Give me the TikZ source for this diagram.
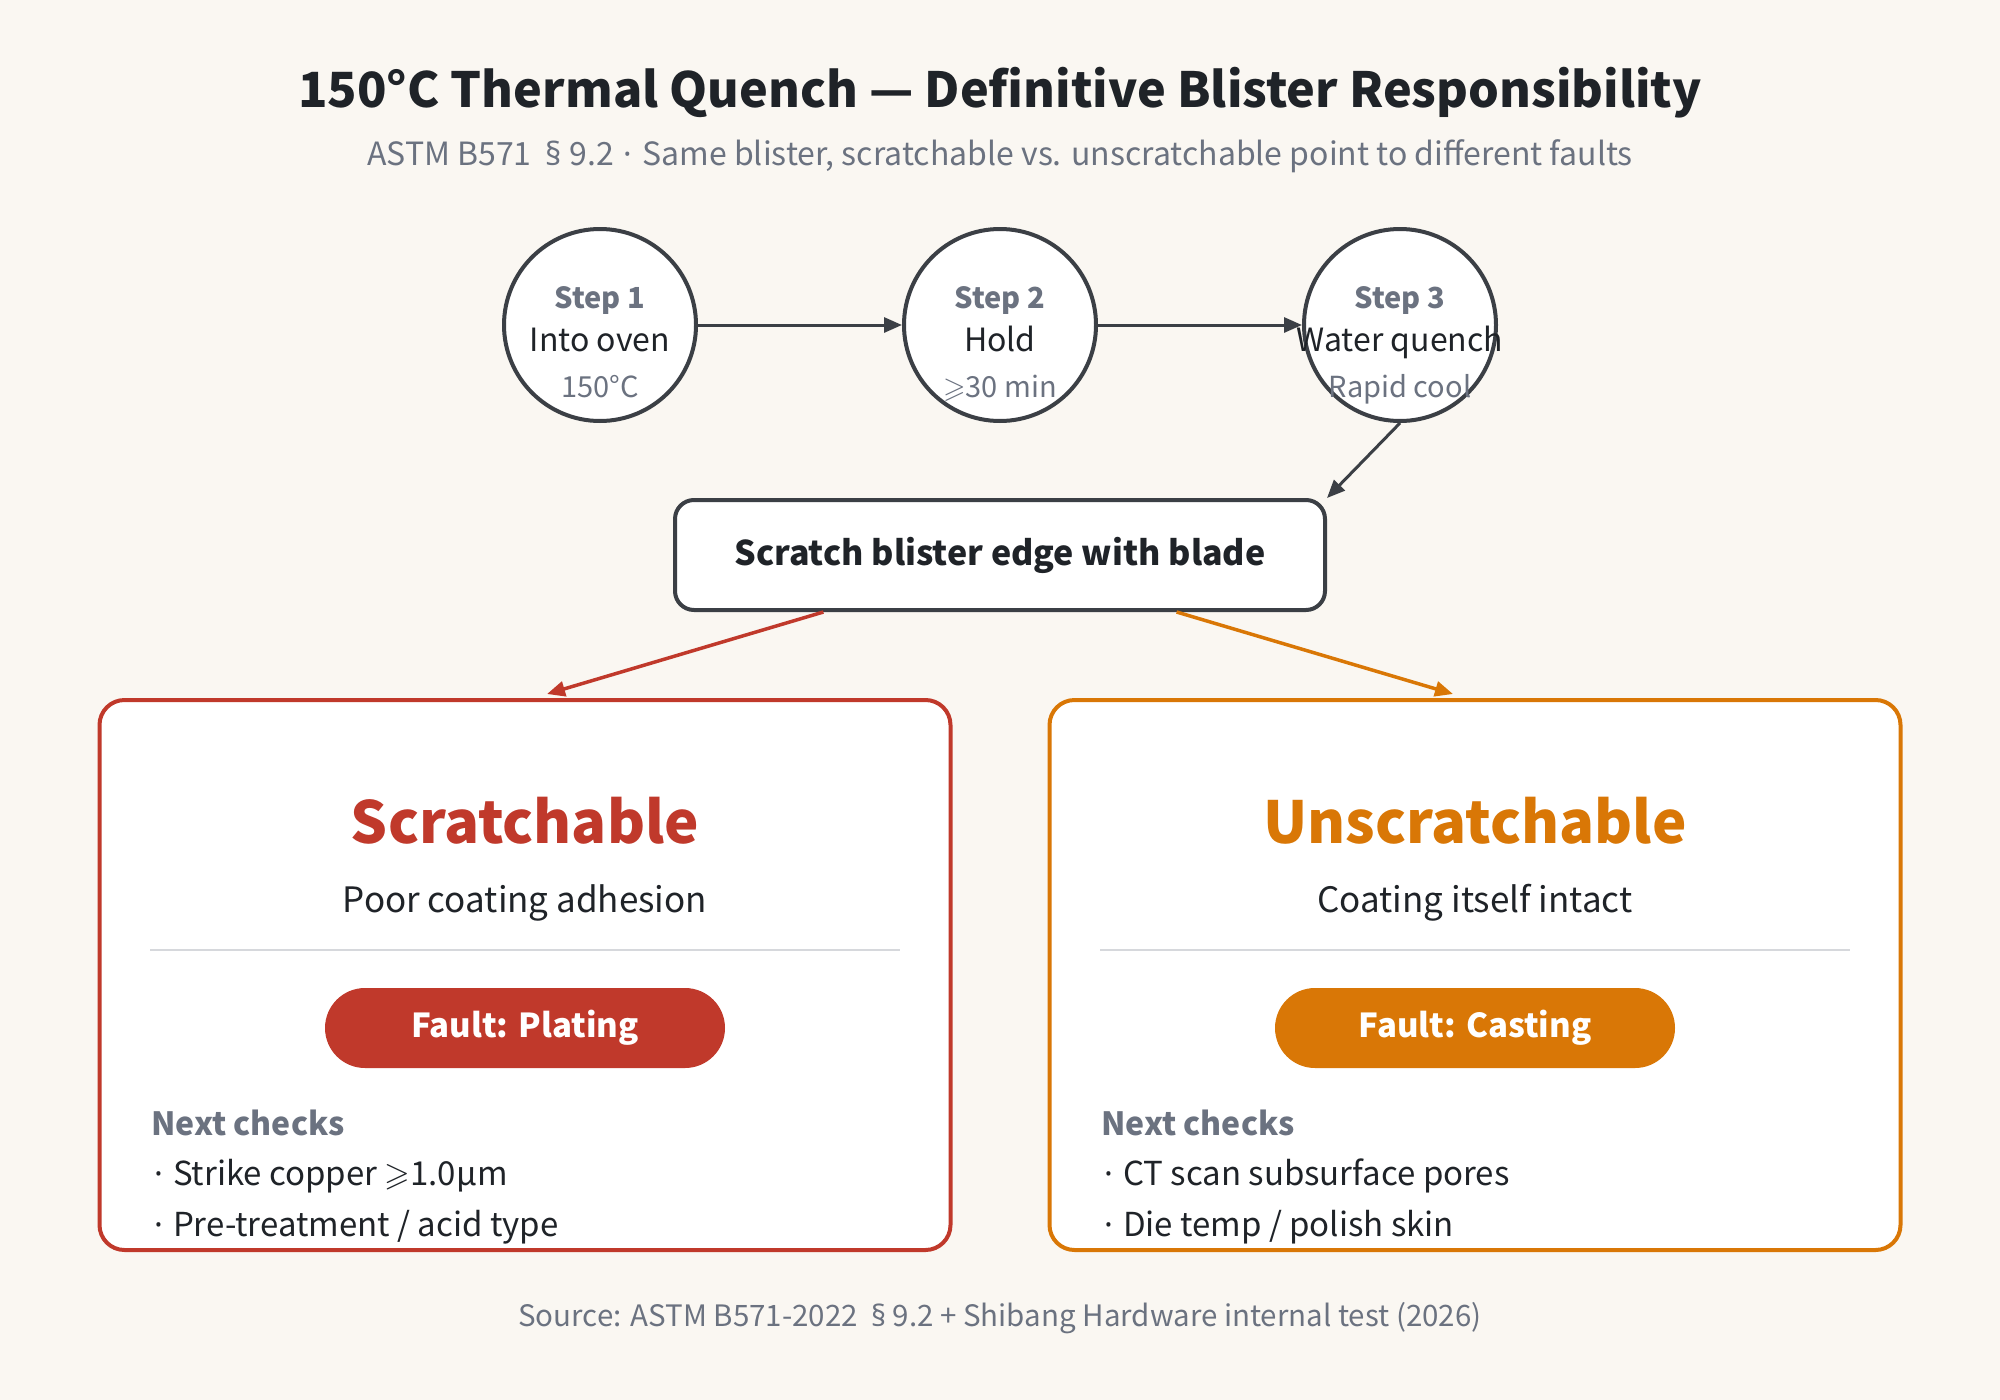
\documentclass[tikz,border=0pt]{standalone}
\usepackage{fontspec}
\usepackage{amssymb}
\setmainfont{Noto Sans CJK SC}
\newfontfamily\latn{Noto Sans}
\usepackage{xcolor}
\definecolor{Cream}{HTML}{FAF7F2}
\definecolor{Ink}{HTML}{3B3F45}
\definecolor{Txt}{HTML}{1F2328}
\definecolor{Slate}{HTML}{6B7280}
\definecolor{Rule}{HTML}{D6D8DC}
\definecolor{Brick}{HTML}{C0392B}
\definecolor{Amber}{HTML}{D97706}
\usepackage{tikz}
\usetikzlibrary{positioning,calc,arrows.meta}
\newcommand\fs[1]{\fontsize{#1}{#1}\selectfont}
\newcommand\bul{\hspace{3pt}{\latn·}\hspace{10pt}}

\begin{document}
\begin{tikzpicture}[x=1pt,y=-1pt,
 txt/.style={inner sep=0pt,anchor=base,text=Txt},
 stepc/.style={circle,draw=Ink,line width=4pt,fill=white,minimum size=192pt,inner sep=0pt},
 arr/.style={draw=Ink,line width=3pt,-{Triangle[length=18pt,width=15pt]}},
 panel/.style={draw=#1,line width=4pt,fill=white,rounded corners=25pt,minimum width=851pt,minimum height=550pt,inner sep=0pt},
 pill/.style={fill=#1,rounded corners=40pt,minimum width=400pt,minimum height=80pt,inner sep=0pt,text=white,font=\bfseries\fs{33}}]
\fill[Cream] (0,0) rectangle (2000,1400);
\useasboundingbox (0,0) rectangle (2000,1400);
% heading
\node[txt,font=\bfseries\fs{48.5}] (title) at (1000,107) {150°C Thermal Quench — Definitive Blister Responsibility};
\node[txt,text=Slate,font=\fs{32}] (subtitle) at (1000,165) {ASTM B571 \ {\latn§} 9.2\hspace{10pt}{\latn·}\hspace{10pt}Same blister, scratchable vs. unscratchable point to different faults};
% three steps
\foreach \i/\x/\what/\note in {1/600/Into oven/150°C, 2/1000/Hold/{$\geqslant$30 min}, 3/1400/Water quench/Rapid cool} {
  \node[stepc] (s\i) at (\x,325) {};
  \node[txt,text=Slate,font=\bfseries\fs{29}] (s\i a) at (\x,308) {Step \i};
  \node[txt,font=\fs{32}] (s\i b) at (\x,351) {\what};
  \node[txt,text=Slate,font=\fs{29}] (s\i c) at (\x,397) {\note};
}
\draw[arr] (s1) -- (s2);
\draw[arr] (s2) -- (s3);
\node[draw=Ink,line width=4pt,fill=white,rounded corners=19pt,minimum width=650pt,minimum height=110pt,
  font=\bfseries\fs{34},text=Txt] (blade) at (1000,555) {Scratch blister edge with blade};
\draw[arr] (s3.south) -- (blade.north east);
% two outcomes
\node[panel=Brick] (left) at (525,975) {};
\node[panel=Amber] (right) at (1475,975) {};
\draw[draw=Brick,line width=3.5pt,-{Triangle[length=18pt,width=15pt]}]
  ($(blade.south west)!0.23!(blade.south east)$) -- ($(left.north)+(22,-4)$);
\draw[draw=Amber,line width=3.5pt,-{Triangle[length=18pt,width=15pt]}]
  ($(blade.south west)!0.77!(blade.south east)$) -- ($(right.north)+(-22,-4)$);
% left panel
\node[txt,text=Brick,font=\bfseries\fs{58}] (lhead) at (525,843) {Scratchable};
\node[txt,font=\fs{35}] (lsub) at (525,912) {Poor coating adhesion};
\draw[Rule,line width=2pt] (150,950) -- (900,950);
\node[pill=Brick] (lfault) at (525,1028) {Fault: Plating};
\node[txt,anchor=base west,text=Slate,font=\bfseries\fs{32}] (lnext) at (151,1135) {Next checks};
\node[txt,anchor=base west,font=\fs{33}] (lc1) at (151,1185) {\bul Strike copper $\geqslant$1.0µm};
\node[txt,anchor=base west,font=\fs{33}] (lc2) at (151,1236) {\bul Pre-treatment / acid type};
% right panel
\node[txt,text=Amber,font=\bfseries\fs{58}] (rhead) at (1475,843) {Unscratchable};
\node[txt,font=\fs{35}] (rsub) at (1475,912) {Coating itself intact};
\draw[Rule,line width=2pt] (1100,950) -- (1850,950);
\node[pill=Amber] (rfault) at (1475,1028) {Fault: Casting};
\node[txt,anchor=base west,text=Slate,font=\bfseries\fs{32}] (rnext) at (1101,1135) {Next checks};
\node[txt,anchor=base west,font=\fs{33}] (rc1) at (1101,1185) {\bul CT scan subsurface pores};
\node[txt,anchor=base west,font=\fs{33}] (rc2) at (1101,1236) {\bul Die temp / polish skin};
% source
\node[txt,text=Slate,font=\fs{29.5}] (source) at (1000,1326) {Source: ASTM B571-2022 \ {\latn§} 9.2 + Shibang Hardware internal test (2026)};
\end{tikzpicture}
\end{document}
